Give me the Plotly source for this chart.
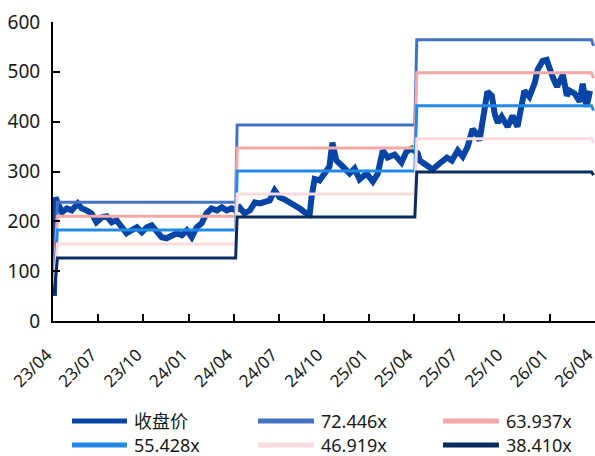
import plotly.graph_objects as go

# ---------------- data ----------------
price_dates = [
    "2023-04-03", "2023-04-06", "2023-04-11", "2023-04-19", "2023-04-29", "2023-05-09", "2023-05-21",
    "2023-05-29", "2023-06-08", "2023-06-18", "2023-06-28", "2023-07-09", "2023-07-19", "2023-07-29",
    "2023-08-08", "2023-08-18", "2023-08-28", "2023-09-07", "2023-09-18", "2023-09-28", "2023-10-08",
    "2023-10-18", "2023-10-28", "2023-11-07", "2023-11-17", "2023-11-28", "2023-12-08", "2023-12-18",
    "2023-12-28", "2024-01-07", "2024-01-17", "2024-01-27", "2024-02-06", "2024-02-16", "2024-02-27",
    "2024-03-08", "2024-03-18", "2024-03-28", "2024-04-05",
    "2024-04-13", "2024-04-23", "2024-05-04", "2024-05-14", "2024-05-24", "2024-06-03", "2024-06-13",
    "2024-06-23", "2024-07-03", "2024-07-13", "2024-07-24", "2024-08-03", "2024-08-13", "2024-08-23",
    "2024-09-02", "2024-09-06", "2024-09-12", "2024-09-22", "2024-10-02", "2024-10-12", "2024-10-18",
    "2024-10-26", "2024-11-08", "2024-11-22", "2024-12-02", "2024-12-12", "2024-12-26", "2025-01-08",
    "2025-01-18", "2025-01-28", "2025-02-07", "2025-02-21", "2025-03-07", "2025-03-17", "2025-03-28",
    "2025-04-03",
    "2025-04-09", "2025-04-13", "2025-04-27", "2025-05-09", "2025-05-23", "2025-06-07", "2025-06-17",
    "2025-06-29", "2025-07-09", "2025-07-19", "2025-07-29", "2025-08-06", "2025-08-12", "2025-08-22",
    "2025-08-28", "2025-09-06", "2025-09-12", "2025-09-18", "2025-09-26", "2025-10-08", "2025-10-18",
    "2025-10-28", "2025-11-06", "2025-11-11", "2025-11-21", "2025-12-02", "2025-12-08", "2025-12-18",
    "2025-12-26", "2026-01-02", "2026-01-08", "2026-01-16", "2026-01-22", "2026-01-28", "2026-02-05",
    "2026-02-11", "2026-02-21", "2026-03-03", "2026-03-09", "2026-03-17", "2026-03-24", "2026-03-28",
]
price_values = [
    50, 248, 236, 218, 226, 222, 236,
    226, 222, 216, 198, 208, 210, 198,
    202, 188, 176, 182, 188, 178, 188,
    192, 182, 168, 166, 172, 176, 172,
    182, 168, 188, 196, 216, 226, 222,
    228, 222, 226, 222,
    228, 216, 222, 238, 236, 238, 242,
    262, 248, 244, 238, 230, 226, 218,
    214, 250, 285, 282, 296, 310, 358,
    322, 310, 296, 306, 284, 296, 280,
    296, 342, 328, 334, 318, 340, 346,
    340,
    336, 322, 314, 304, 316, 328, 322,
    342, 330, 350, 385, 376, 362, 420,
    460, 452, 415, 398, 410, 390, 412,
    390, 440, 462, 450, 478, 505, 522,
    524, 502, 488, 470, 482, 494, 452,
    462, 456, 440, 476, 430, 462,
]

# PE band: valuation dates and EPS used in each segment
band_dates = ["2023-04-03", "2023-04-10", "2024-04-05", "2024-04-08",
              "2025-04-03", "2025-04-07", "2026-03-27", "2026-03-31"]
band_eps = [1.4, 3.29, 3.29, 5.43, 5.43, 7.79, 7.79, 7.62]

multiples = [72.446, 63.937, 55.428, 46.919, 38.410]
series_names = ["收盘价", "72.446x", "63.937x", "55.428x", "46.919x", "38.410x"]
series_colors = ["#0645A6", "#4472C4", "#F4A8A8", "#2389E6", "#FADCDF", "#0B2B5E"]

tick_dates = ["2023-04-01", "2023-07-01", "2023-10-01", "2024-01-01", "2024-04-01", "2024-07-01",
              "2024-10-01", "2025-01-01", "2025-04-01", "2025-07-01", "2025-10-01", "2026-01-01",
              "2026-04-01"]
tick_labels = ["23/04", "23/07", "23/10", "24/01", "24/04", "24/07", "24/10", "25/01", "25/04",
               "25/07", "25/10", "26/01", "26/04"]

# ---------------- figure ----------------
W, H = 595, 456
ML, MR, MT, MB = 53, 0, 22, 135
PW, PH = W - ML - MR, H - MT - MB

fig = go.Figure()
fig.add_trace(go.Scatter(x=price_dates, y=price_values, mode="lines", name=series_names[0],
                         line=dict(color=series_colors[0], width=6), showlegend=False))
for m, name, col in zip(multiples, series_names[1:], series_colors[1:]):
    fig.add_trace(go.Scatter(x=band_dates, y=[m * e for e in band_eps], mode="lines", name=name,
                             line=dict(color=col, width=3), showlegend=False))

font_family = "Noto Sans, Noto Sans CJK SC, sans-serif"
pad = "\u00a0" * 2

fig.update_layout(
    width=W, height=H,
    margin=dict(l=ML, r=MR, t=MT, b=MB),
    paper_bgcolor="white", plot_bgcolor="white",
    font=dict(family=font_family, size=17, color="#1a1a1a"),
    showlegend=False,
)
fig.update_xaxes(
    type="date", range=["2023-04-01", "2026-04-03"], automargin=False,
    tickmode="array", tickvals=tick_dates, ticktext=[t + pad for t in tick_labels],
    tickangle=-45, ticklabelstandoff=9, ticklabeloverflow="allow",
    showgrid=False, showline=True, linecolor="black", linewidth=2,
    ticks="inside", ticklen=7, tickwidth=1.5, tickcolor="black",
    tickfont=dict(size=17), zeroline=False,
)
fig.update_yaxes(
    range=[0, 600], dtick=100, tick0=0, automargin=False,
    showgrid=False, showline=True, linecolor="black", linewidth=2,
    ticks="inside", ticklen=7, tickwidth=1.5, tickcolor="black",
    ticklabelstandoff=7, tickfont=dict(size=19), zeroline=False,
)

# ---------------- custom legend ----------------
def px_x(x):
    return (x - ML) / PW

def px_y(y):
    return (H - MB - y) / PH

legend_cols = [(72, 127, 132), (258, 314, 319), (443, 499, 504)]
legend_rows = [421, 445]
for i, (name, col) in enumerate(zip(series_names, series_colors)):
    r, c = divmod(i, 3)
    x0, x1, xt = legend_cols[c]
    y = legend_rows[r]
    fig.add_shape(type="line", xref="paper", yref="paper",
                  x0=px_x(x0), x1=px_x(x1), y0=px_y(y), y1=px_y(y),
                  line=dict(color=col, width=5))
    fig.add_annotation(xref="paper", yref="paper", x=px_x(xt), y=px_y(y),
                       text=name, showarrow=False, xanchor="left", yanchor="middle",
                       font=dict(size=18, family=font_family, color="#1a1a1a"))

fig.write_html("out.html")
